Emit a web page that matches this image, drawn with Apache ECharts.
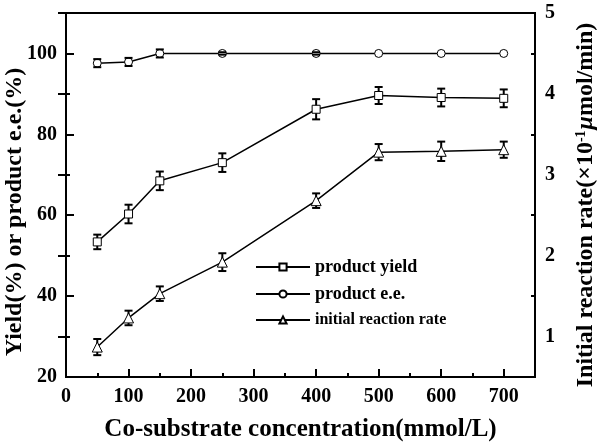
<!DOCTYPE html>
<html>
<head>
<meta charset="utf-8">
<script src="https://cdn.jsdelivr.net/npm/echarts@6/dist/echarts.min.js"></script>
<style>html,body{margin:0;padding:0;background:#fff}#c{width:600px;height:447px}</style>
</head>
<body>
<div id="c"></div>
<script>
const xValues = [50, 100, 150, 250, 400, 500, 600, 700];
const yieldVals = [53.4, 60.3, 68.5, 73.0, 86.2, 89.6, 89.1, 88.9];
const yieldErr = [1.8, 2.3, 2.3, 2.3, 2.5, 2.1, 2.2, 2.2];
const eeVals = [97.6, 97.9, 100, 100, 100, 100, 100, 100];
const eeErr = [1.0, 1.0, 1.0, 0.3, 0.3, 0, 0, 0];
const rateVals = [0.87, 1.23, 1.53, 1.92, 2.68, 3.28, 3.29, 3.31];
const rateErr = [0.10, 0.09, 0.09, 0.11, 0.09, 0.10, 0.12, 0.10];

const xMajorTicks = [0, 100, 200, 300, 400, 500, 600, 700];
const xMinorTicks = [50, 150, 250, 350, 450, 550, 650];
const leftMajorTicks = [20, 40, 60, 80, 100];
const leftMinorTicks = [30, 50, 70, 90];
const rightMajorTicks = [1, 2, 3, 4, 5];
const rightMinorTicks = [1.5, 2.5, 3.5, 4.5];

const names = ['product yield', 'product e.e.', 'initial reaction rate'];

const FONT = 'Liberation Serif';
const chart = echarts.init(document.getElementById('c'), null, {renderer: 'canvas'});

function pairs(vals) { return xValues.map((x, i) => [x, vals[i]]); }
function errData(vals, errs) { return xValues.map((x, i) => [x, vals[i] - errs[i], vals[i] + errs[i]]); }

function errRender(withStem) {
  return function (params, api) {
    const x = api.value(0), lo = api.value(1), hi = api.value(2);
    if (hi === lo) return null;
    const pTop = api.coord([x, hi]);
    const pBot = api.coord([x, lo]);
    const w = 4;
    const st = {stroke: '#000', lineWidth: 2};
    const children = [
      {type: 'line', shape: {x1: pTop[0] - w, y1: pTop[1], x2: pTop[0] + w, y2: pTop[1]}, style: st},
      {type: 'line', shape: {x1: pBot[0] - w, y1: pBot[1], x2: pBot[0] + w, y2: pBot[1]}, style: st}
    ];
    if (withStem) children.push({type: 'line', shape: {x1: pTop[0], y1: pTop[1], x2: pBot[0], y2: pBot[1]}, style: st});
    return {type: 'group', children: children};
  };
}

const tickLabelStyle = {fontFamily: FONT, fontWeight: 'bold', fontSize: 20, color: '#000'};
const axisLineStyle = {lineStyle: {color: '#000', width: 2}};

function lineSeries(name, data, symbol, size, yIdx) {
  return {
    name: name, type: 'line', data: data, xAxisIndex: 0, yAxisIndex: yIdx,
    symbol: symbol, symbolSize: size, showAllSymbol: true,
    lineStyle: {color: '#000', width: 1.5},
    itemStyle: {color: '#fff', borderColor: '#000', borderWidth: 1},
    z: 5, animation: false
  };
}

const option = {
  animation: false,
  backgroundColor: '#fff',
  grid: {left: 66, top: 13, right: 65, bottom: 68, show: true, borderColor: '#000', borderWidth: 2},
  xAxis: [
    {
      type: 'value', min: 0, max: 750, position: 'bottom',
      axisLine: axisLineStyle,
      axisTick: {inside: true, length: 8, lineStyle: {color: '#000', width: 2}, customValues: xMajorTicks},
      axisLabel: Object.assign({margin: 10, customValues: xMajorTicks}, tickLabelStyle),
      splitLine: {show: false},
      name: 'Co-substrate concentration(mmol/L)', nameLocation: 'middle', nameGap: 40,
      nameTextStyle: {fontFamily: FONT, fontWeight: 'bold', fontSize: 25, color: '#000'}
    },
    {
      type: 'value', min: 0, max: 750, position: 'bottom',
      axisLine: {show: false},
      axisTick: {inside: true, length: 4, lineStyle: {color: '#000', width: 2}, customValues: xMinorTicks},
      axisLabel: {show: false}, splitLine: {show: false}
    }
  ],
  yAxis: [
    {
      type: 'value', min: 20, max: 110, position: 'left',
      axisLine: Object.assign({show: true}, axisLineStyle),
      axisTick: {show: true, inside: true, length: 8, lineStyle: {color: '#000', width: 2}, customValues: leftMajorTicks},
      axisLabel: Object.assign({margin: 9, customValues: leftMajorTicks}, tickLabelStyle),
      splitLine: {show: false}
    },
    {
      type: 'value', min: 0.5, max: 5, position: 'right',
      axisLine: Object.assign({show: true}, axisLineStyle),
      axisTick: {show: true, inside: true, length: 8, lineStyle: {color: '#000', width: 2}, customValues: rightMajorTicks},
      axisLabel: Object.assign({margin: 10, customValues: rightMajorTicks}, tickLabelStyle),
      splitLine: {show: false}
    },
    {
      type: 'value', min: 20, max: 110, position: 'left',
      axisLine: {show: false},
      axisTick: {show: true, inside: true, length: 4, lineStyle: {color: '#000', width: 2}, customValues: leftMinorTicks},
      axisLabel: {show: false}, splitLine: {show: false}
    },
    {
      type: 'value', min: 0.5, max: 5, position: 'right',
      axisLine: {show: false},
      axisTick: {show: true, inside: true, length: 4, lineStyle: {color: '#000', width: 2}, customValues: rightMinorTicks},
      axisLabel: {show: false}, splitLine: {show: false}
    }
  ],
  legend: {
    data: names, orient: 'vertical', left: 250, top: 253,
    itemWidth: 54, itemHeight: 9, itemGap: 9,
    formatter: function (n) { return n === 'initial reaction rate' ? '{s|' + n + '}' : '{b|' + n + '}'; },
    textStyle: {
      color: '#000',
      rich: {
        b: {fontFamily: FONT, fontWeight: 'bold', fontSize: 18, color: '#000'},
        s: {fontFamily: FONT, fontWeight: 'bold', fontSize: 16, color: '#000'}
      }
    }
  },
  graphic: [
    {
      type: 'text', x: 15, y: 212, rotation: Math.PI / 2,
      style: {text: 'Yield(%) or product e.e.(%)', fontFamily: FONT, fontWeight: 'bold', fontSize: 24, fill: '#000', align: 'center', verticalAlign: 'middle'}
    },
    {
      type: 'text', x: 586, y: 205, rotation: Math.PI / 2,
      style: {
        text: 'Initial reaction rate(×10{sup|-1}{mu|μ}mol/min)',
        fontFamily: FONT, fontWeight: 'bold', fontSize: 24, fill: '#000', align: 'center', verticalAlign: 'middle',
        rich: {
          sup: {fontFamily: FONT, fontWeight: 'bold', fontSize: 14, fill: '#000', verticalAlign: 'top', padding: [0, 1, 10, 0]},
          mu: {fontFamily: FONT, fontWeight: 'bold', fontStyle: 'italic', fontSize: 24, fill: '#000'}
        }
      }
    }
  ],
  series: [
    {type: 'custom', name: 'yieldErr', xAxisIndex: 0, yAxisIndex: 0, data: errData(yieldVals, yieldErr), renderItem: errRender(true), z: 3, silent: true},
    {type: 'custom', name: 'rateErr', xAxisIndex: 0, yAxisIndex: 1, data: errData(rateVals, rateErr), renderItem: errRender(true), z: 3, silent: true},
    lineSeries(names[0], pairs(yieldVals), 'rect', 8, 0),
    lineSeries(names[1], pairs(eeVals), 'circle', 8, 0),
    lineSeries(names[2], pairs(rateVals), 'triangle', 10, 1),
    {type: 'custom', name: 'eeErr', xAxisIndex: 0, yAxisIndex: 0, data: errData(eeVals, eeErr), renderItem: errRender(false), z: 8, silent: true}
  ]
};
chart.setOption(option);
</script>
</body>
</html>
